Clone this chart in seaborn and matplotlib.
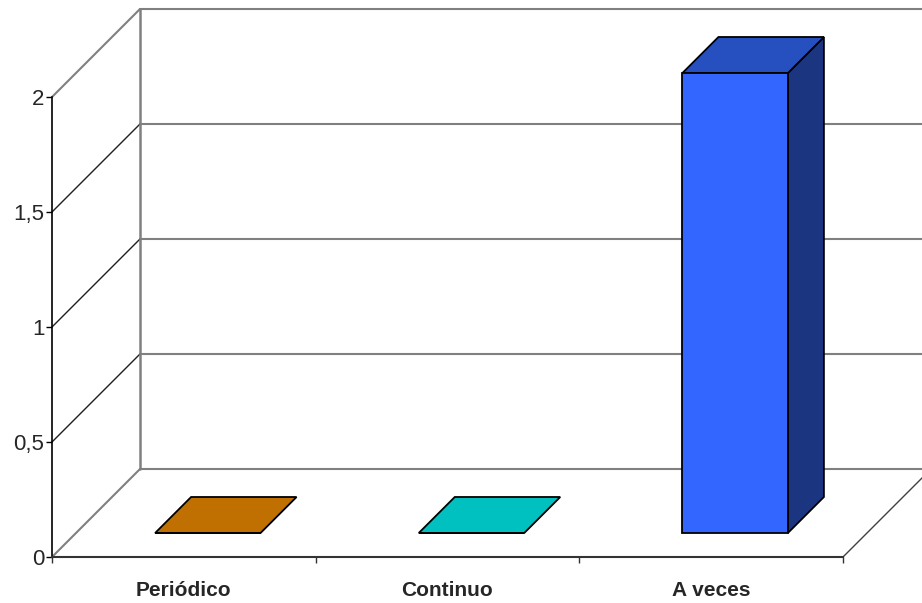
import matplotlib
matplotlib.use("Agg")
import matplotlib.pyplot as plt
from matplotlib import font_manager
from matplotlib.patches import Polygon
from matplotlib.lines import Line2D
import numpy as np
import pandas as pd
import seaborn as sns

# ---- data ----
categories = ["Periódico", "Continuo", "A veces"]
values = [0, 0, 2]
yticks = [0, 0.5, 1, 1.5, 2]
ytick_labels = ["0", "0,5", "1", "1,5", "2"]
front_colors = ["#C07000", "#00C0C0", "#3366FF"]
top_colors = ["#C07000", "#00C0C0", "#2650C0"]
side_colors = ["#7A4800", "#008080", "#1C3580"]

sns.set_style("white")
plt.rcParams["font.family"] = ["Liberation Sans", "DejaVu Sans"]

names = {f.name for f in font_manager.fontManager.ttflist}
if "Liberation Sans Narrow" in names:
    xfont = ["Liberation Sans Narrow", "Liberation Sans", "DejaVu Sans"]
    xsize = 17
else:
    xfont = ["Liberation Sans", "DejaVu Sans"]
    xsize = 15

FW, FH = 922, 603
fig = plt.figure(figsize=(FW / 100, FH / 100), dpi=100)
AX_L, AX_B, AX_W, AX_H = 52, 46, 791, 460
ax = fig.add_axes([AX_L / FW, AX_B / FH, AX_W / FW, AX_H / FH])

df = pd.DataFrame({"cat": categories, "val": values})
sns.barplot(data=df, x="cat", y="val", hue="cat", palette=front_colors,
            width=0.4, legend=False, ax=ax, edgecolor="black",
            linewidth=1.3, saturation=1, zorder=5)
ax.set_xlim(-0.5, 2.5)
ax.set_ylim(0, 2)

# pixel -> data conversion
ux = 3 / AX_W
uy = 2 / AX_H
D = 88          # full depth of the box (px)
d1, d2 = 24, 60  # bar front / back depth (px)

wall_gray = "#808080"
# back wall horizontal gridlines
for v in yticks:
    ax.add_line(Line2D([-0.5 + D * ux, 3.5], [v + D * uy, v + D * uy],
                       color=wall_gray, lw=1.5, clip_on=False, zorder=1))
    # left wall diagonals
    col = wall_gray if v in (0, 2) else "#202020"
    ax.add_line(Line2D([-0.5, -0.5 + D * ux], [v, v + D * uy],
                       color=col, lw=1.0 if v not in (0, 2) else 1.5,
                       clip_on=False, zorder=1))
# back wall left vertical edge
ax.add_line(Line2D([-0.5 + D * ux, -0.5 + D * ux], [D * uy, 2 + D * uy],
                   color=wall_gray, lw=1.8, clip_on=False, zorder=1))
# floor right diagonal
ax.add_line(Line2D([2.5, 2.5 + D * ux], [0, D * uy],
                   color="#404040", lw=1.0, clip_on=False, zorder=1))

# 3D bars
for i, p in enumerate(ax.patches[:len(values)]):
    x0, w, h = p.get_x(), p.get_width(), p.get_height()
    ax1, ay1 = d1 * ux, d1 * uy
    bx1, by1 = d2 * ux, d2 * uy
    p.set_x(x0 + ax1)
    p.set_y(ay1)
    p.set_clip_on(False)
    if h > 0:
        side = Polygon([(x0 + w + ax1, ay1), (x0 + w + bx1, by1),
                        (x0 + w + bx1, h + by1), (x0 + w + ax1, h + ay1)],
                       closed=True, facecolor=side_colors[i], edgecolor="black",
                       lw=1.3, clip_on=False, zorder=4)
        ax.add_patch(side)
    top = Polygon([(x0 + ax1, h + ay1), (x0 + w + ax1, h + ay1),
                   (x0 + w + bx1, h + by1), (x0 + bx1, h + by1)],
                  closed=True, facecolor=top_colors[i], edgecolor="black",
                  lw=1.3, clip_on=False, zorder=4)
    ax.add_patch(top)

# spines
sns.despine(ax=ax, top=True, right=True)
ax.spines["left"].set_color("black")
ax.spines["left"].set_linewidth(1.2)
ax.spines["bottom"].set_color("#333333")
ax.spines["bottom"].set_linewidth(1.5)

ax.set_yticks(yticks, ytick_labels)
ax.tick_params(axis="y", direction="out", length=4.5, width=1, color="black",
               labelsize=16, pad=1, left=True)
ax.set_xticks(range(len(categories)), categories)
ax.set_xticks([-0.5, 0.5, 1.5, 2.5], minor=True)
ax.tick_params(axis="x", which="major", length=0, pad=17.5)
ax.tick_params(axis="x", which="minor", direction="out", length=4.5, width=1,
               color="#333333", bottom=True)
for t in ax.get_xticklabels():
    t.set_fontfamily(xfont)
    t.set_fontsize(xsize)
    t.set_fontweight("bold")
ax.set_xlabel("")
ax.set_ylabel("")
ax.grid(False)

fig.savefig("out.png", dpi=100)
